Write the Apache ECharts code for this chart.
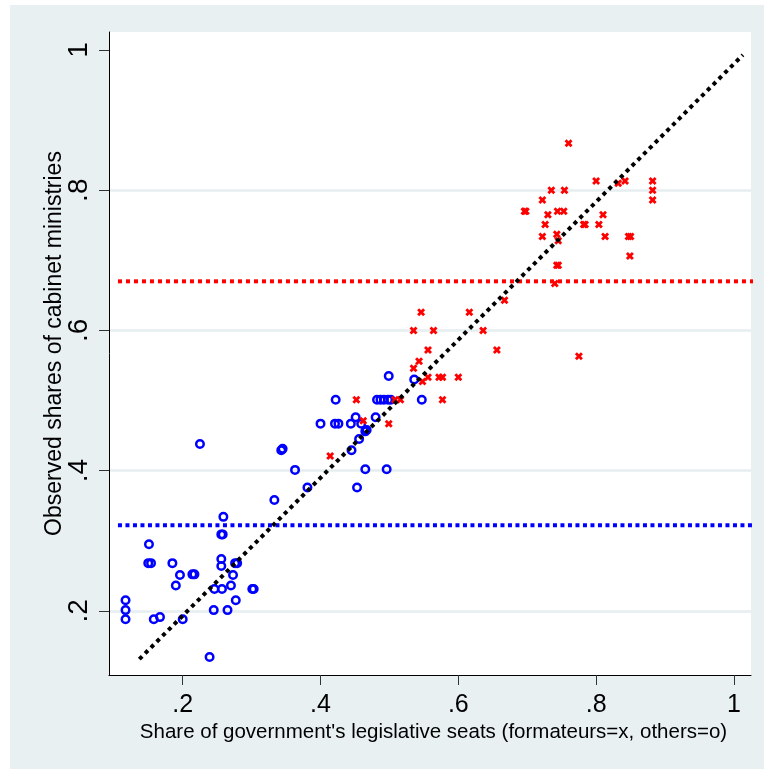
<!DOCTYPE html>
<html><head><meta charset="utf-8">
<script src="https://cdn.jsdelivr.net/npm/echarts@6/dist/echarts.min.js"></script>
<style>html,body{margin:0;padding:0;background:#fff;}#c{position:absolute;left:10px;top:5px;width:754px;height:764px;}</style>
</head><body><div id="c"></div><script>
// tick values and labels
const xTicks = [0.2, 0.4, 0.6, 0.8, 1];
const xTickLabels = ['.2', '.4', '.6', '.8', '1'];
const yTicks = [0.2, 0.4, 0.6, 0.8, 1];
const yTickLabels = ['.2', '.4', '.6', '.8', '1'];
const yGrid = [0.2, 0.4, 0.6, 0.8];
const xTitle = "Share of government's legislative seats (formateurs=x, others=o)";
const yTitle = 'Observed shares of cabinet ministries';

// others (o)
const blueX = [0.225,0.343,0.345,0.363,0.381,0.333,0.259,0.256,0.258,0.151,0.150,0.154,0.185,0.256,0.256,0.276,0.279,0.196,0.214,0.217,0.273,0.190,0.270,0.246,0.257,0.301,0.303,0.117,0.117,0.117,0.277,0.245,0.265,0.158,0.167,0.200,0.239,
  0.499,0.536,0.422,0.482,0.487,0.492,0.498,0.502,0.547,0.400,0.421,0.426,0.444,0.451,0.459,0.480,0.465,0.467,0.456,0.445,0.465,0.496,0.453];
const blueY = [0.438,0.429,0.431,0.401,0.376,0.358,0.334,0.309,0.309,0.295,0.268,0.268,0.268,0.274,0.264,0.268,0.268,0.251,0.252,0.252,0.251,0.236,0.236,0.231,0.231,0.231,0.231,0.215,0.201,0.188,0.215,0.201,0.201,0.188,0.191,0.188,0.134,
  0.535,0.530,0.501,0.501,0.501,0.501,0.501,0.501,0.501,0.467,0.467,0.467,0.467,0.476,0.467,0.476,0.456,0.458,0.445,0.429,0.402,0.402,0.376];

// formateurs (x)
const redX = [0.535,0.543,0.548,0.556,0.572,0.577,0.600,0.452,0.508,0.516,0.577,0.462,0.499,0.414,0.546,0.616,0.667,0.535,0.564,0.636,0.556,0.656,0.775,
  0.760,0.800,0.832,0.842,0.882,0.882,0.882,0.735,0.754,0.722,0.696,0.698,0.744,0.753,0.730,0.810,0.726,0.782,0.784,0.804,0.722,0.743,0.745,0.813,0.847,0.850,0.849,0.743,0.745,0.740];
const redY = [0.546,0.556,0.527,0.533,0.533,0.533,0.533,0.501,0.501,0.501,0.501,0.471,0.467,0.421,0.626,0.626,0.643,0.600,0.600,0.600,0.572,0.572,0.563,
  0.867,0.813,0.810,0.813,0.813,0.800,0.786,0.800,0.800,0.786,0.770,0.770,0.770,0.770,0.765,0.765,0.751,0.751,0.751,0.751,0.734,0.737,0.728,0.734,0.734,0.734,0.706,0.693,0.693,0.667];

// reference lines
const diagX = [0.137, 1.013];
const diagY = [0.131, 0.993];
const formateurMean = 0.67;
const othersMean = 0.322;
const hLineX = [0.106, 1.044];

const font = 'Liberation Sans, Arial, sans-serif';
const zip = (a, b) => a.map((v, i) => [v, b[i]]);
const xShape = 'path://M0,2.5L2.5,0L5,2.5L7.5,0L10,2.5L7.5,5L10,7.5L7.5,10L5,7.5L2.5,10L0,7.5L2.5,5Z';

const chart = echarts.init(document.getElementById('c'));
chart.setOption({
  backgroundColor: '#e8f0f2',
  animation: false,
  grid: { left: 99, top: 27, width: 642, height: 643, show: true, backgroundColor: '#fff', borderWidth: 0 },
  graphic: [
    { type: 'text', x: 423.5, y: 727, style: { text: xTitle, font: '20.5px ' + font, fill: '#000', align: 'center', verticalAlign: 'middle' } },
    { type: 'text', x: 45, y: 338.5, rotation: Math.PI / 2, style: { text: yTitle, font: '23px ' + font, fill: '#000', align: 'center', verticalAlign: 'middle' } }
  ],
  xAxis: {
    type: 'value', min: 0.093, max: 1.0248,
    axisLine: { show: true, onZero: false, lineStyle: { color: '#000', width: 1 } },
    axisTick: { show: true, length: 10, customValues: xTicks, lineStyle: { color: '#333', width: 1 } },
    axisLabel: { customValues: xTicks, margin: 18, fontFamily: font, fontSize: 25, color: '#000',
      formatter: v => xTickLabels[xTicks.findIndex(t => Math.abs(t - v) < 1e-6)] },
    splitLine: { show: false }
  },
  yAxis: {
    type: 'value', min: 0.1084, max: 1.0257,
    axisLine: { show: true, onZero: false, lineStyle: { color: '#000', width: 1 } },
    axisTick: { show: true, length: 10, customValues: yTicks, lineStyle: { color: '#333', width: 1 } },
    axisLabel: { customValues: yTicks, margin: 16, rotate: 90, fontFamily: font, fontSize: 28, color: '#000',
      formatter: v => yTickLabels[yTicks.findIndex(t => Math.abs(t - v) < 1e-6)] },
    splitLine: { show: false }
  },
  series: [
    { type: 'line', data: [], silent: true, z: 0,
      markLine: { silent: true, z: 0, symbol: ['none', 'none'], label: { show: false },
        lineStyle: { color: '#e6eef0', width: 2.5, type: 'solid' },
        data: yGrid.map(v => ({ yAxis: v })) } },
    { type: 'line', clip: false, silent: true, symbol: 'none', z: 1, data: zip(hLineX, [formateurMean, formateurMean]),
      lineStyle: { color: '#ff0000', width: 4, type: [4, 4], cap: 'butt' } },
    { type: 'line', clip: false, silent: true, symbol: 'none', z: 1, data: zip(hLineX, [othersMean, othersMean]),
      lineStyle: { color: '#0000ff', width: 4, type: [4, 3.5], cap: 'butt' } },
    { type: 'scatter', data: zip(blueX, blueY), symbol: 'circle', symbolSize: 7.5, z: 3,
      itemStyle: { color: 'rgba(0,0,0,0)', borderColor: '#0000ff', borderWidth: 2.5, opacity: 1 } },
    { type: 'scatter', data: zip(redX, redY), symbol: xShape, symbolSize: 8, z: 4,
      itemStyle: { color: '#ff0000', opacity: 1 } },
    { type: 'line', silent: true, symbol: 'none', z: 5, data: zip(diagX, diagY),
      lineStyle: { color: '#000', width: 4, type: [4, 4.2], cap: 'butt' } }
  ]
});
</script></body></html>
